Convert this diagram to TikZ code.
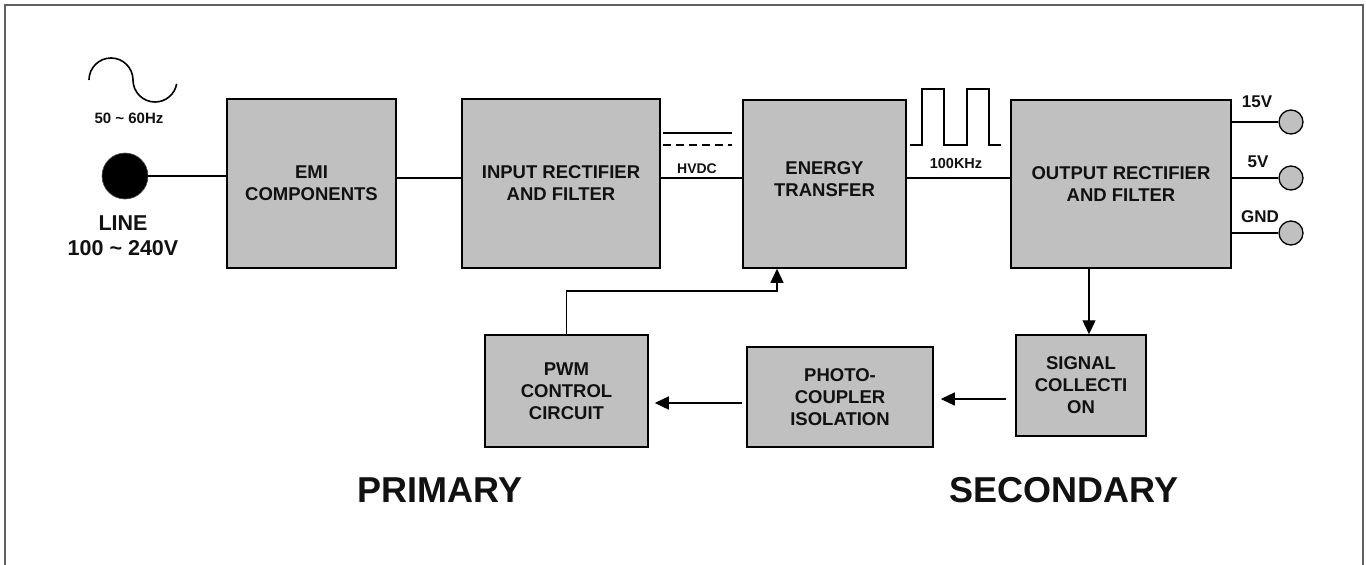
\documentclass[tikz,border=0pt]{standalone}
\usepackage{fontspec}
\setmainfont{Liberation Sans}
\usetikzlibrary{arrows.meta}
\definecolor{boxgray}{HTML}{C0C0C0}
\definecolor{framegray}{HTML}{606060}
\definecolor{inkk}{HTML}{111111}
\begin{document}
\begin{tikzpicture}[x=1pt,y=-1pt,
  blk/.style={draw=black, line width=1.5pt, fill=boxgray, inner sep=0pt, align=center, text=inkk,
    font=\bfseries\fontsize{18.5}{22}\selectfont},
  wire/.style={line width=1.3pt},
  arr/.style={wire, -{Triangle[length=14pt,width=13pt]}},
  lbl/.style={font=\bfseries\fontsize{#1}{#1}\selectfont, inner sep=0pt, text=inkk},
  term/.style={circle, draw=black, line width=1.3pt, fill=boxgray, minimum size=24pt, inner sep=0pt},
]
\useasboundingbox (0,0) rectangle (1366,565);
\draw[framegray, line width=1.5pt] (5,566) -- (5,5) -- (1363,5) -- (1363,566);

% main row blocks
\node[blk, minimum width=169pt, minimum height=169pt] (emi) at (311.5,183.5) {EMI\\COMPONENTS};
\node[blk, minimum width=198pt, minimum height=169pt] (inp) at (561,183.5) {INPUT RECTIFIER\\AND FILTER};
\node[blk, minimum width=163pt, minimum height=168pt] (ene) at (824.5,184) {ENERGY\\TRANSFER\\[-13pt]};
\node[blk, minimum width=220pt, minimum height=168pt] (out) at (1121,184) {OUTPUT RECTIFIER\\AND FILTER};

% feedback blocks
\node[blk, minimum width=130pt, minimum height=101pt] (sig) at (1081,385.5) {SIGNAL\\COLLECTI\\ON};
\node[blk, minimum width=186pt, minimum height=100pt] (pho) at (840,397) {PHOTO-\\COUPLER\\ISOLATION};
\node[blk, minimum width=163pt, minimum height=112pt] (pwm) at (566.5,391) {PWM\\CONTROL\\CIRCUIT};

% line input
\node[circle, fill=black, draw=black!70, line width=0.6pt, minimum size=46pt, inner sep=0pt] (line) at (125,176) {};
\node[font=\bfseries\fontsize{21.5}{25}\selectfont, align=center, inner sep=0pt, text=inkk] (linelbl) at (123,236) {LINE\\100 \textasciitilde{} 240V};
\node[lbl=15] (hz) at (129,118) {50 \textasciitilde{} 60Hz};
\draw[line width=1.6pt] (89,80) arc[start angle=180, end angle=360, radius=22]
                        arc[start angle=180, end angle=10, radius=22];

% row coordinates
\coordinate (row) at (0,178);
\coordinate (r2) at (0,399);
\coordinate (r3) at (0,403);
\coordinate (dn) at (1089,0);
\coordinate (k) at (777,291);

% main connectors
\draw[wire] (line.east) -- (line.east -| emi.west);
\draw[wire] (emi.east |- row) -- (inp.west |- row);
\draw[wire] (inp.east |- row) -- (ene.west |- row);
\draw[wire] (ene.east |- row) -- (out.west |- row);

% HVDC symbol
\draw[wire] (663,133) -- (732,133);
\draw[wire, dash pattern=on 8pt off 5pt] (663,145) -- (732,145);
\node[lbl=14] (hvdc) at (697,169) {HVDC};

% square wave
\draw[wire] (910,145) -- (922,145) -- (922,89) -- (944,89) -- (944,145) -- (967,145) -- (967,89) -- (989,89) -- (989,145) -- (1001,145);
\node[lbl=14.5] (khz) at (956,164) {100KHz};

% outputs
\node[term] (o15) at (1291,122) {};
\node[term] (o5) at (1291,178) {};
\node[term] (og) at (1291,233) {};
\draw[wire] (o15.west -| out.east) -- (o15.west);
\draw[wire] (o5.west -| out.east) -- (o5.west);
\draw[wire] (og.west -| out.east) -- (og.west);
\node[lbl=17] (v15) at (1257,102) {15V};
\node[lbl=17] (v5) at (1258,162) {5V};
\node[lbl=17] (vg) at (1260,217) {GND};

% feedback connectors
\draw[arr] (out.south -| dn) -- (sig.north -| dn);
\draw[arr, shorten <=9pt, shorten >=7pt] (sig.west |- r2) -- (pho.east |- r2);
\draw[arr, shorten <=4pt, shorten >=6pt] (pho.west |- r3) -- (pwm.east |- r3);
\draw[arr] (pwm.north) |- (k) -- (ene.south -| k);

% side labels
\node[lbl=36] (prim) at (440,490) {PRIMARY};
\node[lbl=36] (sec) at (1064,490) {SECONDARY};
\end{tikzpicture}
\end{document}
